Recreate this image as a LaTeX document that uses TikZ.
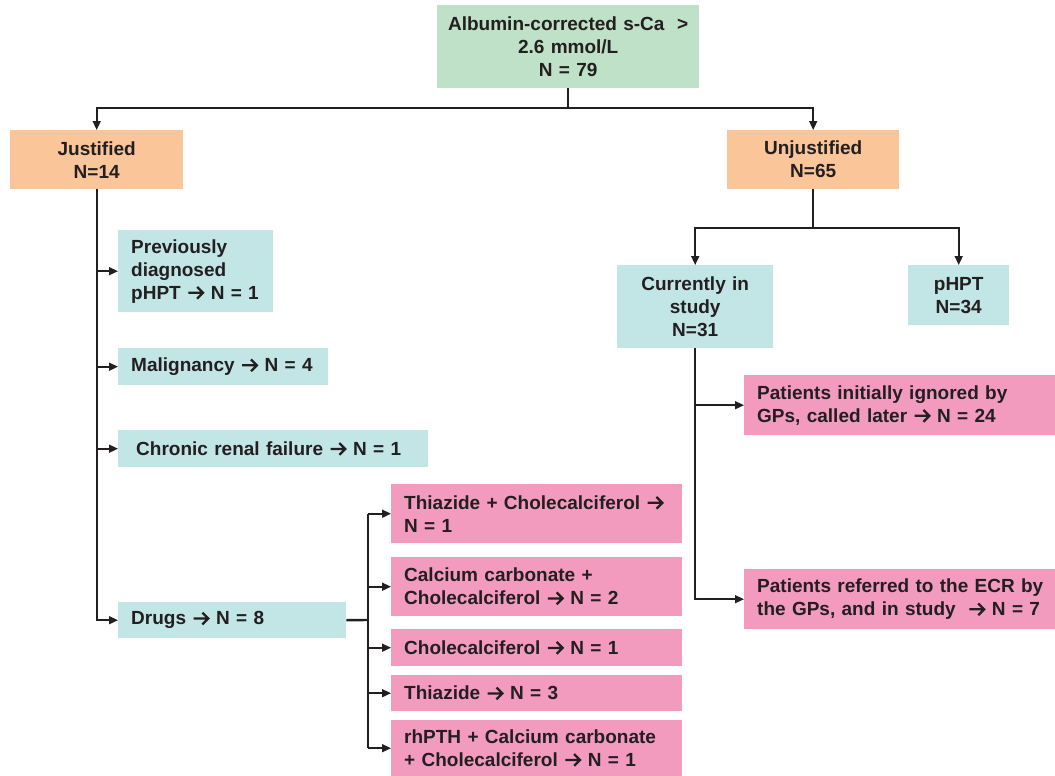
\documentclass[tikz,border=0pt]{standalone}
\usepackage{fontspec}
\setmainfont{Liberation Sans}
\usepackage{tikz}
\tikzset{x=1pt,y=-1pt}
\usetikzlibrary{arrows.meta, calc}
\definecolor{ink}{HTML}{231F20}
\definecolor{greenc}{HTML}{BFE1C7}
\definecolor{orangec}{HTML}{FBC59A}
\definecolor{tealc}{HTML}{C2E5E6}
\definecolor{pinkc}{HTML}{F29BBE}
% the text arrow
\newsavebox\arrbox
\sbox\arrbox{\tikz[baseline=0pt]\draw[ink, line width=2.3pt, line join=miter]
  (0pt,6.3pt) -- (15pt,6.3pt) (8.8pt,0.4pt) -- (14.7pt,6.3pt) -- (8.8pt,12.2pt);}
\newcommand\ra{\usebox\arrbox}

\begin{document}
\begin{tikzpicture}[
    every node/.style={font=\bfseries\fontsize{19}{23}\selectfont, text=ink},
    cbox/.style={inner xsep=4pt, inner ysep=0pt, anchor=north west, align=center},
    lbox/.style={inner xsep=13pt, inner ysep=0pt, anchor=north west, align=left},
    link/.style={line width=1.6pt, draw=ink},
    conn/.style={link, -{Triangle[length=9pt,width=8pt]}}]
    \useasboundingbox (0,0) rectangle (1055,776);

    % root
    \node[cbox, fill=greenc, text width=254pt, minimum height=83pt] (root) at (437,5)
      {Albumin-corrected s-Ca~~>\\2.6 mmol/L\\N = 79};
    \node[cbox, fill=orangec, text width=165pt, minimum height=59pt] (just) at (10,130)
      {Justified\\N=14};
    \node[cbox, fill=orangec, text width=164pt, minimum height=59pt] (unjust) at (727,130)
      {Unjustified\\N=65};

    % justified branch
    \node[lbox, fill=tealc, text width=129pt, minimum height=82pt] (prev) at (118,230)
      {Previously\\diagnosed\\\mbox{pHPT \ra\ N = 1}};
    \node[lbox, fill=tealc, text width=184pt, minimum height=37pt] (malig) at (118,348)
      {\mbox{Malignancy \ra\ N = 4}};
    \node[lbox, inner xsep=18pt, fill=tealc, text width=274pt, minimum height=37pt] (renal) at (118,430)
      {\mbox{Chronic renal failure \ra\ N = 1}};
    \node[lbox, fill=tealc, text width=202pt, minimum height=36pt] (drugs) at (118,602)
      {\mbox{Drugs \ra\ N = 8}};

    % drugs
    \node[lbox, fill=pinkc, text width=265pt, minimum height=59pt] (thiachol) at (391,484)
      {\mbox{Thiazide + Cholecalciferol \ra}\\N = 1};
    \node[lbox, fill=pinkc, text width=265pt, minimum height=59pt] (caco) at (391,557)
      {Calcium carbonate +\\\mbox{Cholecalciferol \ra\ N = 2}};
    \node[lbox, fill=pinkc, text width=265pt, minimum height=37pt] (chol) at (391,629)
      {\mbox{Cholecalciferol \ra\ N = 1}};
    \node[lbox, fill=pinkc, text width=265pt, minimum height=36pt] (thia) at (391,675)
      {\mbox{Thiazide \ra\ N = 3}};
    \node[lbox, fill=pinkc, text width=265pt, minimum height=56pt] (rhpth) at (391,720)
      {\mbox{rhPTH + Calcium carbonate}\\\mbox{+ Cholecalciferol \ra\ N = 1}};

    % unjustified branch
    \node[cbox, fill=tealc, text width=148pt, minimum height=83pt] (study) at (617,265)
      {Currently in\\study\\N=31};
    \node[cbox, fill=tealc, text width=93pt, minimum height=60pt] (phpt) at (908,265)
      {pHPT\\N=34};
    \node[lbox, fill=pinkc, text width=285pt, minimum height=60pt] (ignored) at (744,375)
      {\mbox{Patients initially ignored by}\\\mbox{GPs, called later \ra\ N = 24}};
    \node[lbox, fill=pinkc, text width=285pt, minimum height=60pt] (referred) at (744,569)
      {\mbox{Patients referred to the ECR by}\\\mbox{the GPs, and in study~~\ra\ N = 7}};

    % forks
    \coordinate (rootfork) at (root.south |- 0,108);
    \coordinate (unjfork) at (unjust.south |- 0,228);
    \coordinate (drugfork) at (368,620);

    % connectors
    \draw[link] (root.south) -- (rootfork);
    \draw[conn] (rootfork) -| (just.north);
    \draw[conn] (rootfork) -| (unjust.north);

    \draw[conn] (just.south) |- (drugs.west);
    \foreach \n in {prev, malig, renal}
      \draw[conn] (just.south |- \n.west) -- (\n.west);

    \draw[link, line width=2.4pt] (drugs.east) -- (drugfork);
    \draw[link] (drugfork |- thiachol.west) -- (drugfork |- rhpth.west);
    \foreach \n in {thiachol, caco, chol, thia, rhpth}
      \draw[conn] (drugfork |- \n.west) -- (\n.west);

    \draw[link] (unjust.south) -- (unjfork);
    \draw[conn] (unjfork) -| (study.north);
    \draw[conn] (unjfork) -| (phpt.north);

    \draw[conn] (study.south) |- (referred.west);
    \draw[conn] (study.south |- ignored.west) -- (ignored.west);
\end{tikzpicture}
\end{document}
